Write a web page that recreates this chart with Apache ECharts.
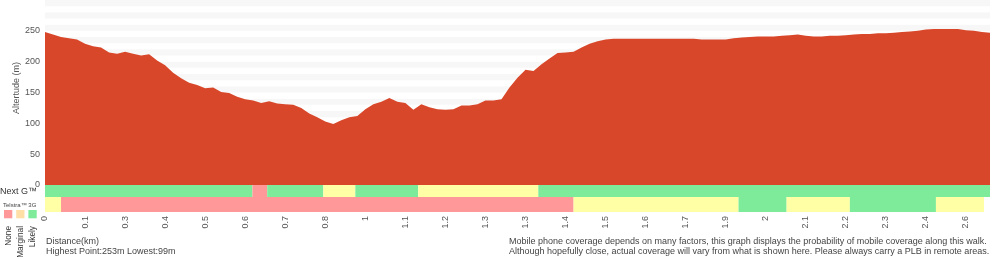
<!DOCTYPE html>
<html>
<head>
<meta charset="utf-8">
<script src="https://cdn.jsdelivr.net/npm/echarts@6/dist/echarts.min.js"></script>
<style>
  html, body { margin: 0; padding: 0; background: #fff; }
  #chart { width: 1000px; height: 260px; }
</style>
</head>
<body>
<div id="chart"></div>
<script>
// elevation (m), one value per profile point
const elevation = [
  248, 244, 240, 238, 236, 229, 225, 223, 215, 213,
  216, 213, 210, 212, 202, 194, 182, 173, 166, 162,
  157, 158, 151, 149, 143, 139, 137, 133, 136, 132,
  131, 130, 125, 116, 110, 103, 99, 105, 110, 112,
  123, 131, 135, 141, 135, 133, 122, 131, 126, 123,
  122, 123, 129, 129, 131, 137, 137, 139, 158, 174,
  187, 185, 196, 205, 214, 215, 216, 223, 229, 233,
  236, 237, 237, 237, 237, 237, 237, 237, 237, 237,
  237, 237, 236, 236, 236, 236, 238, 239, 240, 241,
  241, 241, 242, 243, 244, 242, 241, 241, 242, 242,
  243, 244, 245, 245, 246, 246, 247, 248, 249, 250,
  252, 253, 253, 253, 253, 251, 250, 248, 247
];
// distance labels, one every 5 points
const distLabels = ['0', '0.1', '0.3', '0.4', '0.5', '0.6', '0.7', '0.8', '1', '1.1', '1.2', '1.3',
  '1.3', '1.4', '1.5', '1.6', '1.7', '1.9', '2', '2.1', '2.2', '2.3', '2.4', '2.6'];
const yTicks = [0, 50, 100, 150, 200, 250];

// coverage: [from point, to point, level] level 0 none, 1 marginal, 2 likely
const nextG = [[0, 25.9, 2], [25.9, 27.75, 0], [27.75, 34.75, 2], [34.75, 38.75, 1],
  [38.75, 46.6, 2], [46.6, 61.6, 1], [61.6, 118, 2]];
const telstra3G = [[0, 2, 1], [2, 66, 0], [66, 86.6, 1], [86.6, 92.6, 2],
  [92.6, 100.5, 1], [100.5, 111.25, 2], [111.25, 117.25, 1]];

const bandColors = ['#ff9999', '#ffffa6', '#7deb99'];
const keyColors = ['#ff9999', '#ffdfa6', '#7deb99'];
const keyNames = ['None', 'Marginal', 'Likely'];

const FONT = '"Liberation Sans", Arial, Helvetica, sans-serif';
const categories = elevation.map((v, i) => String(i));

function bandItem(params, api) {
  const a = api.coord([api.value(0), 1]);
  const b = api.coord([api.value(1), 0]);
  return {
    type: 'rect',
    shape: { x: a[0], y: a[1], width: b[0] - a[0], height: b[1] - a[1] },
    style: { fill: bandColors[api.value(2)] }
  };
}

const chart = echarts.init(document.getElementById('chart'));

const graphics = [
  { type: 'text', x: 16.5, y: 88, rotation: Math.PI / 2,
    style: { text: 'Altertude (m)', font: '9px ' + FONT, fill: '#555', align: 'center', verticalAlign: 'middle' } },
  { type: 'text', x: 0, y: 192,
    style: { text: 'Next G™', font: '9px ' + FONT, fill: '#333', align: 'left', verticalAlign: 'middle' } },
  { type: 'text', x: 3, y: 205,
    style: { text: 'Telstra™ 3G', font: '6px ' + FONT, fill: '#444', align: 'left', verticalAlign: 'middle' } },
  { type: 'text', x: 46, y: 242,
    style: { text: 'Distance(km)', font: '9px ' + FONT, fill: '#444', align: 'left', verticalAlign: 'middle' } },
  { type: 'text', x: 46, y: 252,
    style: { text: 'Highest Point:253m Lowest:99m', font: '9px ' + FONT, fill: '#444', align: 'left', verticalAlign: 'middle' } },
  { type: 'text', x: 509, y: 242,
    style: { text: 'Mobile phone coverage depends on many factors, this graph displays the probability of mobile coverage along this walk.',
      font: '9px ' + FONT, fill: '#444', align: 'left', verticalAlign: 'middle' } },
  { type: 'text', x: 509, y: 252,
    style: { text: 'Although hopefully close, actual coverage will vary from what is shown here. Please always carry a PLB in remote areas.',
      font: '9px ' + FONT, fill: '#444', align: 'left', verticalAlign: 'middle' } }
];
keyNames.forEach((name, i) => {
  graphics.push({ type: 'rect', shape: { x: 4 + i * 12.2, y: 210, width: 8.3, height: 8.3 },
    style: { fill: keyColors[i] } });
  graphics.push({ type: 'text', x: 9 + i * 11.8, y: 226, rotation: Math.PI / 2,
    style: { text: name, font: '8.3px ' + FONT, fill: '#333', align: 'right', verticalAlign: 'middle' } });
});

const option = {
  animation: false,
  grid: [
    { left: 45, right: 10, top: -3.4, bottom: 75 },
    { left: 45, right: 10, top: 185, height: 12 },
    { left: 45, right: 10, top: 197, height: 15 }
  ],
  xAxis: [
    {
      gridIndex: 0, type: 'category', data: categories, boundaryGap: false,
      axisLine: { show: false }, axisTick: { show: false },
      axisLabel: {
        interval: 4, rotate: 90, margin: 31, fontSize: 9, color: '#555', fontFamily: FONT,
        formatter: (v, idx) => (idx % 5 === 0 && distLabels[idx / 5] !== undefined ? distLabels[idx / 5] : '')
      }
    },
    { gridIndex: 1, type: 'value', min: 0, max: elevation.length - 1, show: false },
    { gridIndex: 2, type: 'value', min: 0, max: elevation.length - 1, show: false }
  ],
  yAxis: [
    {
      gridIndex: 0, type: 'value', min: 0, max: 300, interval: 10,
      axisLine: { show: false }, axisTick: { show: false },
      splitLine: { show: false },
      splitArea: { show: true, areaStyle: { color: ['#ffffff', '#f7f7f7'] } },
      axisLabel: {
        margin: 5, fontSize: 9, color: '#555', fontFamily: FONT,
        formatter: v => (yTicks.indexOf(v) >= 0 ? String(v) : '')
      }
    },
    { gridIndex: 1, type: 'value', min: 0, max: 1, show: false },
    { gridIndex: 2, type: 'value', min: 0, max: 1, show: false }
  ],
  series: [
    {
      type: 'line', xAxisIndex: 0, yAxisIndex: 0, data: elevation,
      symbol: 'none', lineStyle: { width: 0 },
      itemStyle: { color: '#d9472a' },
      areaStyle: { color: '#d9472a', opacity: 1 }
    },
    {
      type: 'custom', xAxisIndex: 1, yAxisIndex: 1, data: nextG,
      encode: { x: [0, 1] }, renderItem: bandItem
    },
    {
      type: 'custom', xAxisIndex: 2, yAxisIndex: 2, data: telstra3G,
      encode: { x: [0, 1] }, renderItem: bandItem
    }
  ],
  graphic: graphics
};

chart.setOption(option);
</script>
</body>
</html>
